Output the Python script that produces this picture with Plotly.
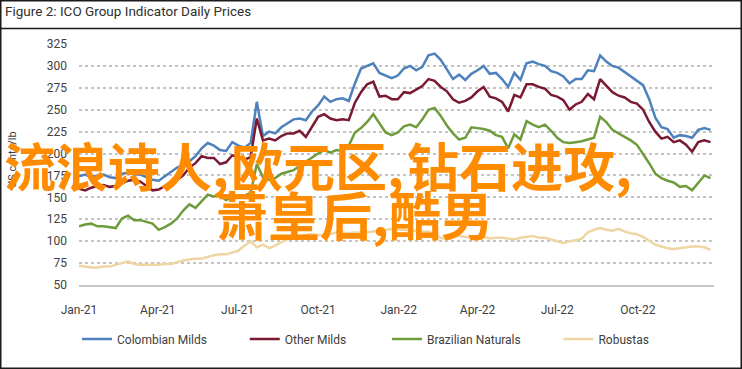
import pandas as pd
import plotly.graph_objects as go

# ---------------- data (weekly readings, US cents/lb) ----------------
dates = pd.date_range("2021-01-01", periods=104, freq="7D")

colombian_milds = [
    174, 176, 173, 175, 176, 173, 172, 177, 178, 176, 176, 173, 170, 169, 174, 180,
    184, 187, 191, 197, 206, 212, 209, 204, 203, 213, 209, 207, 212, 259, 220, 225,
    223, 230, 235, 239, 240, 238, 248, 255, 265, 259, 262, 263, 260, 280, 297, 300,
    303, 292, 289, 286, 289, 297, 300, 295, 299, 312, 314, 307, 296, 285, 290, 284,
    291, 295, 300, 291, 292, 285, 276, 292, 284, 303, 305, 302, 300, 294, 292, 288,
    280, 285, 285, 295, 294, 312, 305, 300, 298, 293, 288, 284, 278, 262, 241, 230,
    228, 218, 221, 220, 218, 227, 229, 227]

other_milds = [
    160, 158, 161, 163, 164, 162, 163, 166, 169, 170, 168, 163, 158, 159, 163, 168,
    170, 175, 184, 189, 197, 195, 195, 188, 190, 198, 196, 193, 196, 240, 215, 217,
    215, 220, 223, 223, 226, 219, 230, 242, 245, 240, 238, 239, 238, 258, 270, 279,
    282, 265, 266, 262, 262, 270, 269, 273, 277, 285, 283, 276, 271, 262, 258, 260,
    264, 271, 276, 265, 263, 259, 248, 267, 264, 279, 279, 276, 274, 267, 265, 261,
    250, 256, 259, 268, 262, 285, 278, 270, 266, 264, 259, 257, 250, 236, 225, 217,
    219, 213, 215, 210, 202, 213, 215, 213]

brazilian_naturals = [
    117, 119, 120, 117, 117, 116, 115, 126, 129, 124, 124, 122, 120, 113, 116, 120,
    126, 135, 142, 138, 145, 153, 151, 152, 147, 150, 152, 152, 155, 188, 173, 170,
    172, 177, 179, 181, 186, 191, 196, 200, 204, 201, 204, 203, 209, 224, 229, 236,
    245, 235, 224, 221, 224, 231, 233, 230, 239, 250, 252, 243, 232, 223, 216, 218,
    230, 229, 228, 226, 221, 219, 206, 222, 216, 237, 233, 230, 233, 226, 218, 213,
    212, 213, 214, 216, 218, 242, 236, 227, 223, 219, 215, 210, 200, 189, 177, 172,
    169, 167, 162, 163, 158, 166, 175, 172]

robustas = [
    72, 71, 70, 70, 71, 71, 73, 75, 77, 74, 73, 73, 73, 73, 74, 74,
    76, 78, 79, 80, 80, 82, 84, 85, 85, 87, 89, 95, 100, 93, 96, 92,
    95, 99, 102, 104, 106, 107, 108, 107, 107, 108, 110, 110, 109, 110, 110, 110,
    111, 112, 113, 114, 113, 113, 112, 112, 111, 111, 108, 104, 102, 104, 106, 105,
    104, 104, 105, 103, 104, 104, 103, 102, 104, 105, 106, 104, 104, 102, 100, 98,
    100, 101, 103, 110, 113, 115, 113, 112, 114, 111, 109, 108, 105, 100, 96, 94,
    92, 91, 92, 93, 94, 94, 93, 90]

series_names = ["Colombian Milds", "Other Milds", "Brazilian Naturals", "Robustas"]
series_values = [colombian_milds, other_milds, brazilian_naturals, robustas]
series_colors = ["#4F81BD", "#7A1A32", "#6E9C3C", "#EDD6A3"]

y_ticks = list(range(50, 326, 25))
title_text = "Figure 2: ICO Group Indicator Daily Prices"
y_title = "US cents/lb"
overlay_line1 = ["流浪诗人,", "欧元区,", "钻石进攻,"]
overlay_line2 = ["萧皇后,", "酷男"]

# ---------------- layout geometry (pixels) ----------------
W, H = 742, 369
L, R, T, B = 79, 28, 44, 84
PW, PH = W - L - R, H - T - B


def px_x(p):
    return (p - L) / PW


def px_y(p):
    return (H - B - p) / PH


FONT = "Roboto, Liberation Sans, sans-serif"
CJK = "Noto Sans CJK SC"
ORANGE = "#FF8C00"

fig = go.Figure()
legend_pads = [11, 12, 11, 0]
for name, vals, col, npad in zip(series_names, series_values, series_colors,
                                 legend_pads):
    fig.add_trace(go.Scatter(
        x=dates, y=vals, name=name + "\u00a0" * npad, mode="lines",
        line=dict(color=col, width=2.5),
    ))

annotations = [
    dict(text=title_text, xref="paper", yref="paper",
         x=px_x(3), y=px_y(11), xanchor="left", yanchor="middle",
         showarrow=False, font=dict(family=FONT, size=13.5, color="#303030")),
    dict(text=y_title, xref="paper", yref="paper",
         x=px_x(12), y=px_y(160), xanchor="center", yanchor="middle",
         textangle=-90, showarrow=False,
         font=dict(family=FONT, size=11, color="#404040")),
]
# big orange overlay text, placed word group by word group
line1_left = [2, 229, 405]
line2_left = [214, 387]
for txt, xl in zip(overlay_line1, line1_left):
    annotations.append(dict(
        text=txt, xref="paper", yref="paper", x=px_x(xl), y=px_y(164),
        xanchor="left", yanchor="middle", showarrow=False,
        font=dict(family=CJK, size=52, color=ORANGE, weight="bold")))
for txt, xl in zip(overlay_line2, line2_left):
    annotations.append(dict(
        text=txt, xref="paper", yref="paper", x=px_x(xl), y=px_y(214),
        xanchor="left", yanchor="middle", showarrow=False,
        font=dict(family=CJK, size=52, color=ORANGE, weight="bold")))

fig.update_layout(
    width=W, height=H,
    margin=dict(l=L, r=R, t=T, b=B),
    paper_bgcolor="white", plot_bgcolor="white",
    font=dict(family=FONT, size=12, color="#404040"),
    showlegend=True,
    legend=dict(
        orientation="h", x=px_x(77), xanchor="left",
        y=px_y(339), yanchor="middle",
        font=dict(family=FONT, size=12, color="#404040"),
        bgcolor="rgba(0,0,0,0)",
    ),
    xaxis=dict(
        range=["2021-01-01", "2022-12-27"],
        tickformat="%b-%y", dtick="M3", tick0="2021-01-01",
        showgrid=False, zeroline=False,
        showline=True, linecolor="#C8C8C8", linewidth=1.5,
        ticks="", ticklabelstandoff=13,
        tickfont=dict(family=FONT, size=12, color="#404040"),
    ),
    yaxis=dict(
        range=[50, 325], tickvals=y_ticks,
        showgrid=True, gridcolor="#C4C4C4", griddash="dot", gridwidth=1.5,
        zeroline=False, showline=False, ticks="", ticklabelstandoff=11,
        tickfont=dict(family=FONT, size=12, color="#404040"),
    ),
    annotations=annotations,
    shapes=[
        dict(type="rect", xref="paper", yref="paper",
             x0=px_x(0.75), x1=px_x(W - 0.75), y0=px_y(H - 0.75), y1=px_y(0.75),
             line=dict(color="#1A1A1A", width=1.5), layer="above"),
        dict(type="line", xref="paper", yref="paper",
             x0=px_x(0), x1=px_x(W), y0=px_y(28.5), y1=px_y(28.5),
             line=dict(color="#1A1A1A", width=1.5), layer="above"),
    ],
)

fig.write_html(
    "out.html",
    config={"displayModeBar": False},
    post_script="document.body.style.margin='0';"
                "document.body.style.overflow='hidden';",
)
